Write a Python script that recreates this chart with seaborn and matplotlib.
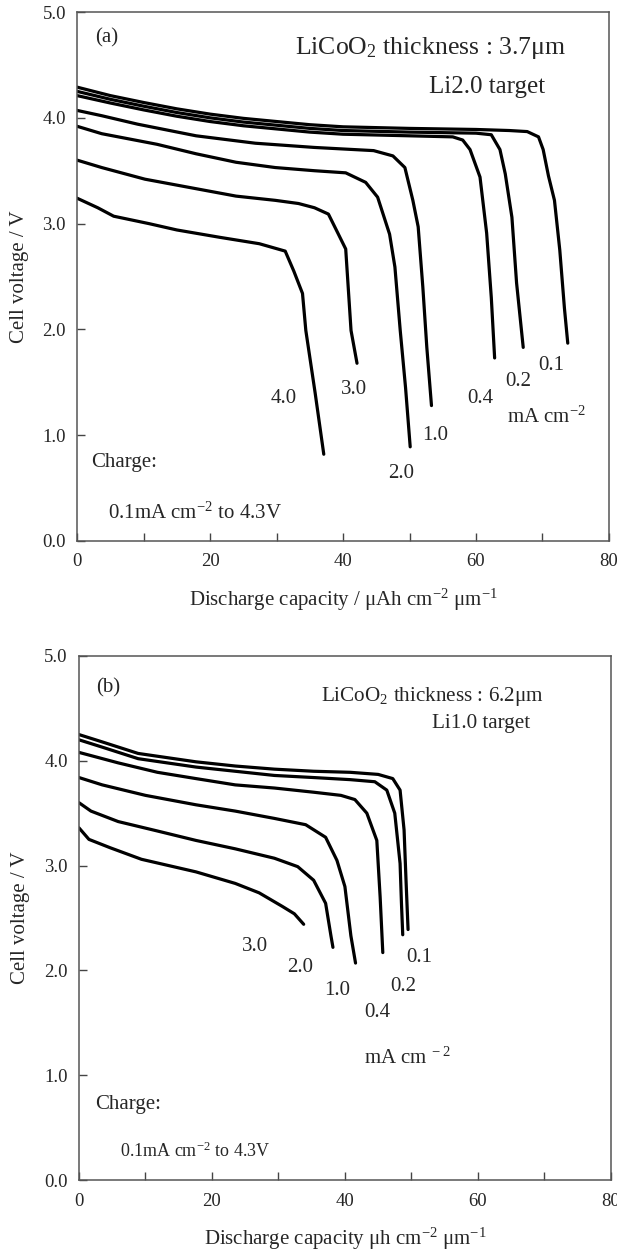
import matplotlib
matplotlib.use("Agg")
import matplotlib.pyplot as plt
import pandas as pd
import seaborn as sns
from matplotlib.ticker import MultipleLocator, FormatStrFormatter

# panel (a): LiCoO2 3.7 um, Li2.0 target
a_rates = ["0.1", "0.2", "0.4", "1.0", "2.0", "3.0", "4.0"]
a_cap = {
    "0.1": [0, 5, 10, 15, 20, 25, 30, 35, 40, 50, 60, 65, 67.7, 69.4, 70.1, 70.9, 71.8, 72.6, 73.3, 73.8],
    "0.2": [0, 5, 10, 15, 20, 25, 30, 35, 40, 50, 60, 62.3, 63.6, 64.4, 65.4, 66.1, 67.1],
    "0.4": [0, 5, 10, 15, 20, 25, 30, 35, 40, 50, 56.5, 58.0, 59.1, 60.6, 61.6, 62.3, 62.8],
    "1.0": [0, 3.7, 9.1, 17.9, 26.8, 35.7, 44.6, 47.5, 49.3, 50.5, 51.3, 52.0, 52.6, 53.3],
    "2.0": [0, 3.7, 12.0, 17.9, 23.9, 29.8, 35.7, 40.4, 43.4, 45.2, 47.0, 47.8, 48.6, 49.4, 50.1],
    "3.0": [0, 3.7, 10.2, 17.9, 23.9, 29.8, 33.3, 35.7, 37.8, 39.3, 40.4, 41.2, 42.1],
    "4.0": [0, 3.1, 5.5, 10.8, 15.0, 21.5, 27.4, 31.3, 32.6, 33.9, 34.4, 35.8, 37.1],
}
a_volt = {
    "0.1": [4.29, 4.21, 4.145, 4.085, 4.035, 3.995, 3.965, 3.935, 3.915, 3.90, 3.89, 3.88, 3.87, 3.82, 3.70, 3.45, 3.22, 2.75, 2.20, 1.87],
    "0.2": [4.25, 4.175, 4.11, 4.05, 4.00, 3.96, 3.93, 3.90, 3.88, 3.865, 3.855, 3.84, 3.70, 3.47, 3.06, 2.44, 1.83],
    "0.4": [4.21, 4.14, 4.075, 4.015, 3.965, 3.925, 3.895, 3.865, 3.845, 3.83, 3.82, 3.79, 3.70, 3.44, 2.91, 2.30, 1.73],
    "1.0": [4.07, 4.02, 3.94, 3.83, 3.76, 3.72, 3.69, 3.64, 3.53, 3.22, 2.97, 2.40, 1.83, 1.28],
    "2.0": [3.92, 3.85, 3.75, 3.66, 3.58, 3.53, 3.50, 3.48, 3.39, 3.25, 2.90, 2.59, 1.99, 1.45, 0.89],
    "3.0": [3.60, 3.53, 3.42, 3.33, 3.26, 3.22, 3.19, 3.15, 3.09, 2.90, 2.76, 1.99, 1.68],
    "4.0": [3.24, 3.15, 3.07, 3.00, 2.94, 2.87, 2.81, 2.74, 2.55, 2.34, 1.99, 1.40, 0.82],
}

# panel (b): LiCoO2 6.2 um, Li1.0 target
b_rates = ["0.1", "0.2", "0.4", "1.0", "2.0", "3.0"]
b_cap = {
    "0.1": [0, 3.5, 8.9, 17.6, 23.5, 29.4, 35.3, 40.8, 45.0, 47.2, 48.3, 48.9, 49.2, 49.5],
    "0.2": [0, 3.5, 8.9, 17.6, 23.5, 29.4, 35.3, 40.8, 44.5, 46.3, 47.5, 48.3, 48.5, 48.7],
    "0.4": [0, 5.9, 11.8, 17.6, 23.5, 29.4, 35.3, 39.4, 41.5, 43.3, 44.8, 45.3, 45.7],
    "1.0": [0, 3.5, 10, 17.6, 23.5, 29.4, 34.1, 37.1, 38.8, 40.0, 40.9, 41.6],
    "2.0": [0, 1.8, 5.9, 11.8, 17.6, 23.5, 29.4, 32.9, 35.3, 37.1, 37.9, 38.2],
    "3.0": [0, 1.5, 4.7, 9.4, 17.6, 23.5, 27.1, 30.6, 32.4, 33.8],
}
b_volt = {
    "0.1": [4.25, 4.18, 4.07, 3.99, 3.95, 3.92, 3.90, 3.89, 3.87, 3.83, 3.72, 3.34, 2.85, 2.39],
    "0.2": [4.20, 4.13, 4.02, 3.94, 3.90, 3.86, 3.84, 3.82, 3.80, 3.72, 3.50, 3.02, 2.65, 2.34],
    "0.4": [4.08, 3.98, 3.89, 3.83, 3.77, 3.74, 3.70, 3.67, 3.63, 3.50, 3.24, 2.70, 2.17],
    "1.0": [3.84, 3.77, 3.67, 3.58, 3.52, 3.45, 3.39, 3.27, 3.05, 2.80, 2.33, 2.07],
    "2.0": [3.60, 3.52, 3.42, 3.33, 3.24, 3.16, 3.07, 2.99, 2.86, 2.64, 2.33, 2.22],
    "3.0": [3.36, 3.25, 3.17, 3.06, 2.94, 2.83, 2.74, 2.61, 2.54, 2.44],
}

# rate labels next to the curves (x, y)
a_label_pos = {"4.0": (31.0, 1.35), "3.0": (41.7, 1.43), "2.0": (48.8, 0.64), "1.0": (53.9, 1.00),
               "0.4": (60.6, 1.35), "0.2": (66.4, 1.51), "0.1": (71.3, 1.66)}
b_label_pos = {"3.0": (26.5, 2.23), "2.0": (33.2, 2.03), "1.0": (38.9, 1.81),
               "0.4": (44.8, 1.60), "0.2": (48.8, 1.85), "0.1": (51.2, 2.12)}


def to_frame(rates, caps, volts):
    rows = []
    for r in rates:
        for i, (c, v) in enumerate(zip(caps[r], volts[r])):
            rows.append({"rate": r, "order": i, "cap": c, "volt": v})
    return pd.DataFrame(rows)


sns.set_style("ticks")
plt.rcParams["font.family"] = ["Liberation Serif", "DejaVu Serif"]
plt.rcParams["mathtext.fontset"] = "custom"
plt.rcParams["mathtext.rm"] = "Liberation Serif"
plt.rcParams["mathtext.it"] = "Liberation Serif:italic"

fig = plt.figure(figsize=(6.17, 12.54), dpi=100)
ax_a = fig.add_axes([0.125, 0.5686, 0.862, 0.4218])
ax_b = fig.add_axes([0.128, 0.059, 0.862, 0.4179])


def style_axis(ax, xlabel):
    ax.set_xlim(0, 80)
    ax.set_ylim(0, 5)
    ax.xaxis.set_major_locator(MultipleLocator(20))
    ax.xaxis.set_minor_locator(MultipleLocator(10))
    ax.yaxis.set_major_locator(MultipleLocator(1))
    ax.yaxis.set_major_formatter(FormatStrFormatter("%.1f"))
    ax.tick_params(axis="both", which="both", direction="in", length=6, width=1,
                   color="#444444", labelsize=13.5, top=False, right=False)
    ax.tick_params(axis="x", pad=9)
    ax.tick_params(axis="y", pad=8)
    for s in ax.spines.values():
        s.set_color("#555555")
        s.set_linewidth(1.1)
    ax.set_xlabel(xlabel, fontsize=15, labelpad=12)
    ax.set_ylabel("Cell voltage / V", fontsize=15, labelpad=10)


df_a = to_frame(a_rates, a_cap, a_volt)
sns.lineplot(data=df_a, x="cap", y="volt", units="rate", estimator=None, sort=False,
             color="black", linewidth=2.3, ax=ax_a, legend=False)
style_axis(ax_a, r"Discharge capacity / μAh cm$^{-2}$ μm$^{-1}$")
for r, (x, y) in a_label_pos.items():
    ax_a.text(x, y, r, fontsize=15, ha="center", va="center")
ax_a.text(64.6, 1.17, r"mA cm$^{-2}$", fontsize=15, ha="left", va="center")
ax_a.text(2.1, 0.74, "Charge:", fontsize=15, ha="left", va="center")
ax_a.text(4.7, 0.26, r"0.1mA cm$^{-2}$ to 4.3V", fontsize=15, ha="left", va="center")
ax_a.text(4.4, 4.76, "(a)", fontsize=15, ha="center", va="center")
ax_a.text(53.2, 4.66, r"LiCoO$_2$ thickness : 3.7μm", fontsize=18.5, ha="center", va="center")
ax_a.text(61.6, 4.29, "Li2.0 target", fontsize=18, ha="center", va="center")

df_b = to_frame(b_rates, b_cap, b_volt)
sns.lineplot(data=df_b, x="cap", y="volt", units="rate", estimator=None, sort=False,
             color="black", linewidth=2.3, ax=ax_b, legend=False)
style_axis(ax_b, r"Discharge capacity μh cm$^{-2}$ μm$^{-1}$")
for r, (x, y) in b_label_pos.items():
    ax_b.text(x, y, r, fontsize=15, ha="center", va="center")
ax_b.text(42.9, 1.16, r"mA cm$^{\ -2}$", fontsize=15, ha="left", va="center")
ax_b.text(2.4, 0.72, "Charge:", fontsize=15, ha="left", va="center")
ax_b.text(6.2, 0.27, r"0.1mA cm$^{-2}$ to 4.3V", fontsize=13, ha="left", va="center")
ax_b.text(4.4, 4.70, "(b)", fontsize=15, ha="center", va="center")
ax_b.text(53.2, 4.61, r"LiCoO$_2$ thickness : 6.2μm", fontsize=15.2, ha="center", va="center")
ax_b.text(60.5, 4.36, "Li1.0 target", fontsize=15.2, ha="center", va="center")

fig.savefig("out.png", dpi=100)
